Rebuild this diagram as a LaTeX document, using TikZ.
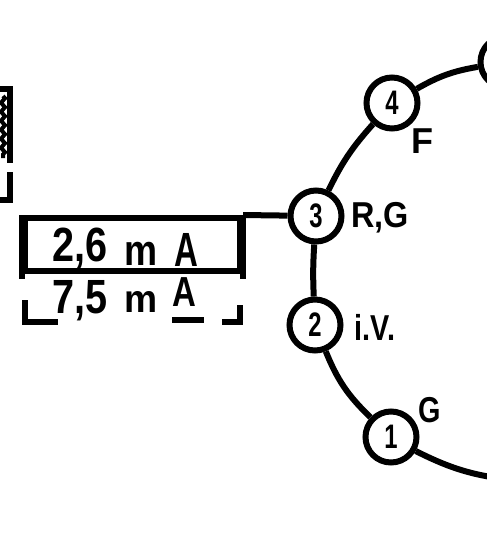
\documentclass[tikz,border=0pt]{standalone}
\usepackage{fontspec}
\setmainfont{Liberation Sans}
\usetikzlibrary{decorations.pathmorphing}
\begin{document}
\begin{tikzpicture}[x=1pt,y=-1pt,line width=6pt,
  stn/.style={circle,draw,line width=6pt,minimum size=51pt,inner sep=0pt,
    font=\bfseries\fontsize{34}{34}\selectfont},
  lbl/.style={inner sep=0pt,font=\bfseries\fontsize{36}{36}\selectfont},
  big/.style={inner sep=0pt,font=\bfseries\fontsize{60}{60}\selectfont},
  link/.style={line width=6pt,bend right=10}]
\useasboundingbox (0,0) rectangle (487,533);
\clip (0,0) rectangle (487,533);

% stations along the ring
\node[stn] (n5) at (506,62) {};
\node[stn] (n4) at (392,103) {\scalebox{.7}[1]{4}};
\node[stn] (n3) at (316,216) {\scalebox{.7}[1]{3}};
\node[stn] (n2) at (315,325) {\scalebox{.7}[1]{2}};
\node[stn] (n1) at (391,437) {\scalebox{.7}[1]{1}};
\coordinate (ringend) at (512,480);

\draw[link] (n5) to (n4);
\draw[link,bend right=8] (n4) to (n3);
\draw[link,bend right=3] (n3) to (n2);
\draw[link,bend right=12] (n2) to (n1);
\draw[link] (n1) to (ringend);

% station labels
\node[lbl] (lF)  at (422,141) {F};
\node[lbl] (lRG) at (380,218) {\scalebox{.9}[1]{R,G}};
\node[lbl] (lIV) at (375,327) {\scalebox{.8}[1]{i.V.}};
\node[lbl] (lG)  at (430,410) {\scalebox{.8}[1]{G}};

% signal box with two rows
\node[draw,line width=6pt,minimum width=215pt,minimum height=53pt,inner sep=0pt]
  (box) at (132.5,244.5) {};
\draw (box.north west) -- ++(0,64);
\draw (box.north east) -- ++(0,64);
\draw (25,300) -- (25,322) -- (58,322);
\draw (240,305) -- (240,322) -- (222,322);
\draw (172,320) -- (204,320);
\draw (box.north east) -- (n3);

\node[big] (r1a) at (80,248) {\scalebox{.66}[.8]{2,6}};
\node[big] (r1b) at (141,254) {\scalebox{.62}[.72]{m}};
\node[big] (r1c) at (186,250) {\scalebox{.55}[.8]{A}};
\node[big] (r2a) at (80,301) {\scalebox{.66}[.8]{7,5}};
\node[big] (r2b) at (141,302) {\scalebox{.62}[.65]{m}};
\node[big] (r2c) at (184,292) {\scalebox{.55}[.7]{A}};

% bracket at the left margin
\draw (0,89) -- (10,89) -- (10,163);
\draw (10,172) -- (10,200) -- (0,200);
\draw[line width=4pt,decorate,decoration={zigzag,segment length=9pt,amplitude=2pt}]
  (3,96) -- (3,158);
\end{tikzpicture}
\end{document}
